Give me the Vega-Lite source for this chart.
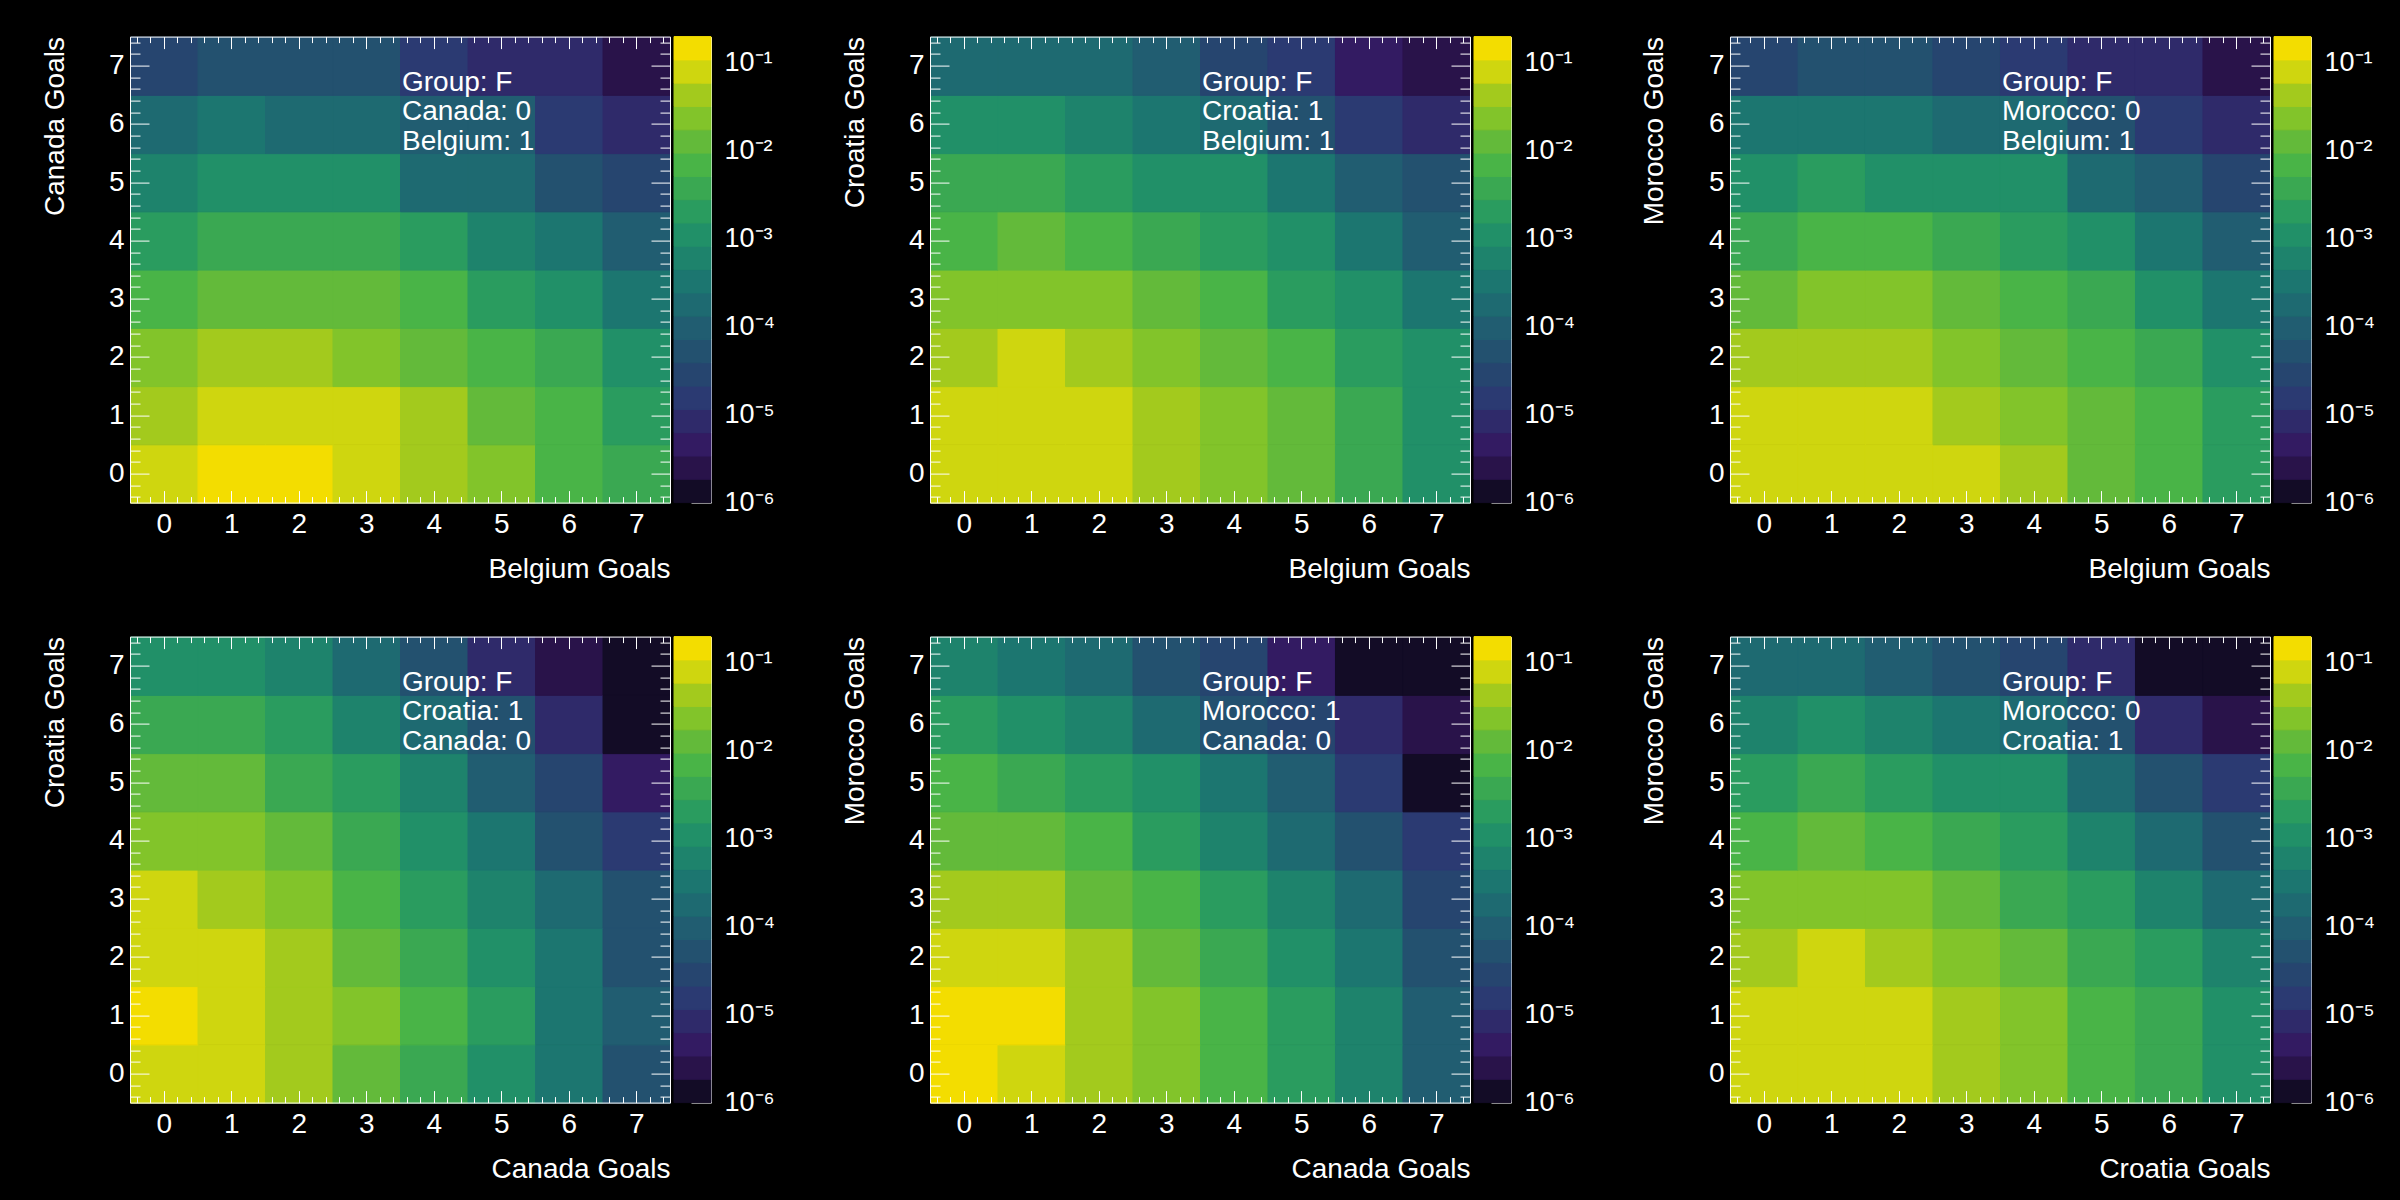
{
  "$schema": "https://vega.github.io/schema/vega-lite/v6.json",
  "background": "black",
  "padding": {"left": 41, "top": 27.6, "right": 25, "bottom": 18},
  "config": {
    "font": "Liberation Sans",
    "view": {"stroke": null},
    "axis": {"grid": false, "domainColor": "white", "domainWidth": 1, "tickColor": "white", "tickWidth": 1, "labelColor": "white", "labelFontSize": 28, "titleColor": "white", "titleFontSize": 28, "titleFontWeight": "normal", "labelOverlap": false, "labelFlush": false, "labelBound": false}
  },
  "datasets": {
    "levels": [
      {"lo": 1e-6, "hi": 1.841e-6}, {"lo": 1.841e-6, "hi": 3.388e-6}, {"lo": 3.388e-6, "hi": 6.237e-6}, {"lo": 6.237e-6, "hi": 1.148e-5},
      {"lo": 1.148e-5, "hi": 2.113e-5}, {"lo": 2.113e-5, "hi": 3.89e-5}, {"lo": 3.89e-5, "hi": 7.161e-5}, {"lo": 7.161e-5, "hi": 1.318e-4},
      {"lo": 1.318e-4, "hi": 2.427e-4}, {"lo": 2.427e-4, "hi": 4.467e-4}, {"lo": 4.467e-4, "hi": 8.222e-4}, {"lo": 8.222e-4, "hi": 1.514e-3},
      {"lo": 1.514e-3, "hi": 2.786e-3}, {"lo": 2.786e-3, "hi": 5.129e-3}, {"lo": 5.129e-3, "hi": 9.441e-3}, {"lo": 9.441e-3, "hi": 0.01738},
      {"lo": 0.01738, "hi": 0.03199}, {"lo": 0.03199, "hi": 0.05888}, {"lo": 0.05888, "hi": 0.1084}, {"lo": 0.1084, "hi": 0.1995}
    ],
    "canada_belgium": [
      {"gx":0,"gy":0,"p":0.0707},{"gx":1,"gy":0,"p":0.13},{"gx":2,"gy":0,"p":0.13},{"gx":3,"gy":0,"p":0.0707},{"gx":4,"gy":0,"p":0.0384},{"gx":5,"gy":0,"p":0.0209},{"gx":6,"gy":0,"p":0.0062},{"gx":7,"gy":0,"p":0.0033},
      {"gx":0,"gy":1,"p":0.0384},{"gx":1,"gy":1,"p":0.0707},{"gx":2,"gy":1,"p":0.0707},{"gx":3,"gy":1,"p":0.0707},{"gx":4,"gy":1,"p":0.0384},{"gx":5,"gy":1,"p":0.0113},{"gx":6,"gy":1,"p":0.0062},{"gx":7,"gy":1,"p":0.0018},
      {"gx":0,"gy":2,"p":0.0209},{"gx":1,"gy":2,"p":0.0384},{"gx":2,"gy":2,"p":0.0384},{"gx":3,"gy":2,"p":0.0209},{"gx":4,"gy":2,"p":0.0113},{"gx":5,"gy":2,"p":0.0062},{"gx":6,"gy":2,"p":0.0033},{"gx":7,"gy":2,"p":0.00099},
      {"gx":0,"gy":3,"p":0.0062},{"gx":1,"gy":3,"p":0.0113},{"gx":2,"gy":3,"p":0.0113},{"gx":3,"gy":3,"p":0.0113},{"gx":4,"gy":3,"p":0.0062},{"gx":5,"gy":3,"p":0.0018},{"gx":6,"gy":3,"p":0.00099},{"gx":7,"gy":3,"p":0.00029},
      {"gx":0,"gy":4,"p":0.0018},{"gx":1,"gy":4,"p":0.0033},{"gx":2,"gy":4,"p":0.0033},{"gx":3,"gy":4,"p":0.0033},{"gx":4,"gy":4,"p":0.0018},{"gx":5,"gy":4,"p":0.00054},{"gx":6,"gy":4,"p":0.00029},{"gx":7,"gy":4,"p":8.6e-5},
      {"gx":0,"gy":5,"p":0.00054},{"gx":1,"gy":5,"p":0.00099},{"gx":2,"gy":5,"p":0.00099},{"gx":3,"gy":5,"p":0.00099},{"gx":4,"gy":5,"p":0.00016},{"gx":5,"gy":5,"p":0.00016},{"gx":6,"gy":5,"p":4.7e-5},{"gx":7,"gy":5,"p":2.5e-5},
      {"gx":0,"gy":6,"p":0.00016},{"gx":1,"gy":6,"p":0.00029},{"gx":2,"gy":6,"p":0.00016},{"gx":3,"gy":6,"p":0.00016},{"gx":4,"gy":6,"p":8.6e-5},{"gx":5,"gy":6,"p":8.6e-5},{"gx":6,"gy":6,"p":1.4e-5},{"gx":7,"gy":6,"p":7.5e-6},
      {"gx":0,"gy":7,"p":2.5e-5},{"gx":1,"gy":7,"p":4.7e-5},{"gx":2,"gy":7,"p":4.7e-5},{"gx":3,"gy":7,"p":4.7e-5},{"gx":4,"gy":7,"p":1.4e-5},{"gx":5,"gy":7,"p":7.5e-6},{"gx":6,"gy":7,"p":7.5e-6},{"gx":7,"gy":7,"p":2.2e-6}
    ],
    "croatia_belgium": [
      {"gx":0,"gy":0,"p":0.0707},{"gx":1,"gy":0,"p":0.0707},{"gx":2,"gy":0,"p":0.0707},{"gx":3,"gy":0,"p":0.0384},{"gx":4,"gy":0,"p":0.0209},{"gx":5,"gy":0,"p":0.0113},{"gx":6,"gy":0,"p":0.0033},{"gx":7,"gy":0,"p":0.00099},
      {"gx":0,"gy":1,"p":0.0707},{"gx":1,"gy":1,"p":0.0707},{"gx":2,"gy":1,"p":0.0707},{"gx":3,"gy":1,"p":0.0384},{"gx":4,"gy":1,"p":0.0209},{"gx":5,"gy":1,"p":0.0113},{"gx":6,"gy":1,"p":0.0033},{"gx":7,"gy":1,"p":0.00099},
      {"gx":0,"gy":2,"p":0.0384},{"gx":1,"gy":2,"p":0.0707},{"gx":2,"gy":2,"p":0.0384},{"gx":3,"gy":2,"p":0.0209},{"gx":4,"gy":2,"p":0.0113},{"gx":5,"gy":2,"p":0.0062},{"gx":6,"gy":2,"p":0.0018},{"gx":7,"gy":2,"p":0.00099},
      {"gx":0,"gy":3,"p":0.0209},{"gx":1,"gy":3,"p":0.0209},{"gx":2,"gy":3,"p":0.0209},{"gx":3,"gy":3,"p":0.0113},{"gx":4,"gy":3,"p":0.0062},{"gx":5,"gy":3,"p":0.0018},{"gx":6,"gy":3,"p":0.00099},{"gx":7,"gy":3,"p":0.00029},
      {"gx":0,"gy":4,"p":0.0062},{"gx":1,"gy":4,"p":0.0113},{"gx":2,"gy":4,"p":0.0062},{"gx":3,"gy":4,"p":0.0033},{"gx":4,"gy":4,"p":0.0018},{"gx":5,"gy":4,"p":0.00099},{"gx":6,"gy":4,"p":0.00029},{"gx":7,"gy":4,"p":8.6e-5},
      {"gx":0,"gy":5,"p":0.0033},{"gx":1,"gy":5,"p":0.0033},{"gx":2,"gy":5,"p":0.0018},{"gx":3,"gy":5,"p":0.00099},{"gx":4,"gy":5,"p":0.00099},{"gx":5,"gy":5,"p":0.00029},{"gx":6,"gy":5,"p":8.6e-5},{"gx":7,"gy":5,"p":4.7e-5},
      {"gx":0,"gy":6,"p":0.00099},{"gx":1,"gy":6,"p":0.00099},{"gx":2,"gy":6,"p":0.00054},{"gx":3,"gy":6,"p":0.00029},{"gx":4,"gy":6,"p":0.00016},{"gx":5,"gy":6,"p":4.7e-5},{"gx":6,"gy":6,"p":1.4e-5},{"gx":7,"gy":6,"p":7.5e-6},
      {"gx":0,"gy":7,"p":0.00016},{"gx":1,"gy":7,"p":0.00016},{"gx":2,"gy":7,"p":0.00016},{"gx":3,"gy":7,"p":8.6e-5},{"gx":4,"gy":7,"p":2.5e-5},{"gx":5,"gy":7,"p":1.4e-5},{"gx":6,"gy":7,"p":4.1e-6},{"gx":7,"gy":7,"p":2.2e-6}
    ],
    "morocco_belgium": [
      {"gx":0,"gy":0,"p":0.0707},{"gx":1,"gy":0,"p":0.0707},{"gx":2,"gy":0,"p":0.0707},{"gx":3,"gy":0,"p":0.0707},{"gx":4,"gy":0,"p":0.0384},{"gx":5,"gy":0,"p":0.0113},{"gx":6,"gy":0,"p":0.0062},{"gx":7,"gy":0,"p":0.0018},
      {"gx":0,"gy":1,"p":0.0707},{"gx":1,"gy":1,"p":0.0707},{"gx":2,"gy":1,"p":0.0707},{"gx":3,"gy":1,"p":0.0384},{"gx":4,"gy":1,"p":0.0209},{"gx":5,"gy":1,"p":0.0113},{"gx":6,"gy":1,"p":0.0062},{"gx":7,"gy":1,"p":0.0018},
      {"gx":0,"gy":2,"p":0.0384},{"gx":1,"gy":2,"p":0.0384},{"gx":2,"gy":2,"p":0.0384},{"gx":3,"gy":2,"p":0.0209},{"gx":4,"gy":2,"p":0.0113},{"gx":5,"gy":2,"p":0.0062},{"gx":6,"gy":2,"p":0.0033},{"gx":7,"gy":2,"p":0.00099},
      {"gx":0,"gy":3,"p":0.0113},{"gx":1,"gy":3,"p":0.0209},{"gx":2,"gy":3,"p":0.0209},{"gx":3,"gy":3,"p":0.0113},{"gx":4,"gy":3,"p":0.0062},{"gx":5,"gy":3,"p":0.0033},{"gx":6,"gy":3,"p":0.00099},{"gx":7,"gy":3,"p":0.00029},
      {"gx":0,"gy":4,"p":0.0033},{"gx":1,"gy":4,"p":0.0062},{"gx":2,"gy":4,"p":0.0062},{"gx":3,"gy":4,"p":0.0033},{"gx":4,"gy":4,"p":0.0018},{"gx":5,"gy":4,"p":0.00099},{"gx":6,"gy":4,"p":0.00029},{"gx":7,"gy":4,"p":8.6e-5},
      {"gx":0,"gy":5,"p":0.00099},{"gx":1,"gy":5,"p":0.0018},{"gx":2,"gy":5,"p":0.00099},{"gx":3,"gy":5,"p":0.00099},{"gx":4,"gy":5,"p":0.00099},{"gx":5,"gy":5,"p":0.00016},{"gx":6,"gy":5,"p":8.6e-5},{"gx":7,"gy":5,"p":2.5e-5},
      {"gx":0,"gy":6,"p":0.00029},{"gx":1,"gy":6,"p":0.00029},{"gx":2,"gy":6,"p":0.00029},{"gx":3,"gy":6,"p":0.00016},{"gx":4,"gy":6,"p":0.00016},{"gx":5,"gy":6,"p":4.7e-5},{"gx":6,"gy":6,"p":1.4e-5},{"gx":7,"gy":6,"p":7.5e-6},
      {"gx":0,"gy":7,"p":2.5e-5},{"gx":1,"gy":7,"p":4.7e-5},{"gx":2,"gy":7,"p":4.7e-5},{"gx":3,"gy":7,"p":2.5e-5},{"gx":4,"gy":7,"p":1.4e-5},{"gx":5,"gy":7,"p":7.5e-6},{"gx":6,"gy":7,"p":7.5e-6},{"gx":7,"gy":7,"p":2.2e-6}
    ],
    "croatia_canada": [
      {"gx":0,"gy":0,"p":0.0707},{"gx":1,"gy":0,"p":0.0707},{"gx":2,"gy":0,"p":0.0384},{"gx":3,"gy":0,"p":0.0113},{"gx":4,"gy":0,"p":0.0033},{"gx":5,"gy":0,"p":0.00099},{"gx":6,"gy":0,"p":0.00029},{"gx":7,"gy":0,"p":4.7e-5},
      {"gx":0,"gy":1,"p":0.13},{"gx":1,"gy":1,"p":0.0707},{"gx":2,"gy":1,"p":0.0384},{"gx":3,"gy":1,"p":0.0209},{"gx":4,"gy":1,"p":0.0062},{"gx":5,"gy":1,"p":0.0018},{"gx":6,"gy":1,"p":0.00029},{"gx":7,"gy":1,"p":8.6e-5},
      {"gx":0,"gy":2,"p":0.0707},{"gx":1,"gy":2,"p":0.0707},{"gx":2,"gy":2,"p":0.0384},{"gx":3,"gy":2,"p":0.0113},{"gx":4,"gy":2,"p":0.0033},{"gx":5,"gy":2,"p":0.00099},{"gx":6,"gy":2,"p":0.00029},{"gx":7,"gy":2,"p":4.7e-5},
      {"gx":0,"gy":3,"p":0.0707},{"gx":1,"gy":3,"p":0.0384},{"gx":2,"gy":3,"p":0.0209},{"gx":3,"gy":3,"p":0.0062},{"gx":4,"gy":3,"p":0.0018},{"gx":5,"gy":3,"p":0.00054},{"gx":6,"gy":3,"p":0.00016},{"gx":7,"gy":3,"p":4.7e-5},
      {"gx":0,"gy":4,"p":0.0209},{"gx":1,"gy":4,"p":0.0209},{"gx":2,"gy":4,"p":0.0113},{"gx":3,"gy":4,"p":0.0033},{"gx":4,"gy":4,"p":0.00099},{"gx":5,"gy":4,"p":0.00029},{"gx":6,"gy":4,"p":4.7e-5},{"gx":7,"gy":4,"p":1.4e-5},
      {"gx":0,"gy":5,"p":0.0113},{"gx":1,"gy":5,"p":0.0113},{"gx":2,"gy":5,"p":0.0033},{"gx":3,"gy":5,"p":0.0018},{"gx":4,"gy":5,"p":0.00054},{"gx":5,"gy":5,"p":8.6e-5},{"gx":6,"gy":5,"p":2.5e-5},{"gx":7,"gy":5,"p":4.1e-6},
      {"gx":0,"gy":6,"p":0.0033},{"gx":1,"gy":6,"p":0.0033},{"gx":2,"gy":6,"p":0.0018},{"gx":3,"gy":6,"p":0.00054},{"gx":4,"gy":6,"p":0.00016},{"gx":5,"gy":6,"p":4.7e-5},{"gx":6,"gy":6,"p":7.5e-6},{"gx":7,"gy":6,"p":1.2e-6},
      {"gx":0,"gy":7,"p":0.00099},{"gx":1,"gy":7,"p":0.00099},{"gx":2,"gy":7,"p":0.00054},{"gx":3,"gy":7,"p":0.00016},{"gx":4,"gy":7,"p":4.7e-5},{"gx":5,"gy":7,"p":7.5e-6},{"gx":6,"gy":7,"p":2.2e-6},{"gx":7,"gy":7,"p":1.2e-6}
    ],
    "morocco_canada": [
      {"gx":0,"gy":0,"p":0.13},{"gx":1,"gy":0,"p":0.0707},{"gx":2,"gy":0,"p":0.0384},{"gx":3,"gy":0,"p":0.0209},{"gx":4,"gy":0,"p":0.0062},{"gx":5,"gy":0,"p":0.0018},{"gx":6,"gy":0,"p":0.00054},{"gx":7,"gy":0,"p":8.6e-5},
      {"gx":0,"gy":1,"p":0.13},{"gx":1,"gy":1,"p":0.13},{"gx":2,"gy":1,"p":0.0384},{"gx":3,"gy":1,"p":0.0209},{"gx":4,"gy":1,"p":0.0062},{"gx":5,"gy":1,"p":0.0018},{"gx":6,"gy":1,"p":0.00054},{"gx":7,"gy":1,"p":8.6e-5},
      {"gx":0,"gy":2,"p":0.0707},{"gx":1,"gy":2,"p":0.0707},{"gx":2,"gy":2,"p":0.0384},{"gx":3,"gy":2,"p":0.0113},{"gx":4,"gy":2,"p":0.0033},{"gx":5,"gy":2,"p":0.00099},{"gx":6,"gy":2,"p":0.00029},{"gx":7,"gy":2,"p":4.7e-5},
      {"gx":0,"gy":3,"p":0.0384},{"gx":1,"gy":3,"p":0.0384},{"gx":2,"gy":3,"p":0.0113},{"gx":3,"gy":3,"p":0.0062},{"gx":4,"gy":3,"p":0.0018},{"gx":5,"gy":3,"p":0.00054},{"gx":6,"gy":3,"p":0.00016},{"gx":7,"gy":3,"p":2.5e-5},
      {"gx":0,"gy":4,"p":0.0113},{"gx":1,"gy":4,"p":0.0113},{"gx":2,"gy":4,"p":0.0062},{"gx":3,"gy":4,"p":0.0018},{"gx":4,"gy":4,"p":0.00054},{"gx":5,"gy":4,"p":0.00016},{"gx":6,"gy":4,"p":4.7e-5},{"gx":7,"gy":4,"p":1.4e-5},
      {"gx":0,"gy":5,"p":0.0062},{"gx":1,"gy":5,"p":0.0033},{"gx":2,"gy":5,"p":0.0018},{"gx":3,"gy":5,"p":0.00099},{"gx":4,"gy":5,"p":0.00029},{"gx":5,"gy":5,"p":8.6e-5},{"gx":6,"gy":5,"p":1.4e-5},{"gx":7,"gy":5,"p":1.2e-6},
      {"gx":0,"gy":6,"p":0.0018},{"gx":1,"gy":6,"p":0.00099},{"gx":2,"gy":6,"p":0.00054},{"gx":3,"gy":6,"p":0.00016},{"gx":4,"gy":6,"p":4.7e-5},{"gx":5,"gy":6,"p":2.5e-5},{"gx":6,"gy":6,"p":7.5e-6},{"gx":7,"gy":6,"p":2.2e-6},
      {"gx":0,"gy":7,"p":0.00054},{"gx":1,"gy":7,"p":0.00029},{"gx":2,"gy":7,"p":0.00016},{"gx":3,"gy":7,"p":4.7e-5},{"gx":4,"gy":7,"p":2.5e-5},{"gx":5,"gy":7,"p":4.1e-6},{"gx":6,"gy":7,"p":1.2e-6},{"gx":7,"gy":7,"p":1.2e-6}
    ],
    "morocco_croatia": [
      {"gx":0,"gy":0,"p":0.0707},{"gx":1,"gy":0,"p":0.0707},{"gx":2,"gy":0,"p":0.0707},{"gx":3,"gy":0,"p":0.0384},{"gx":4,"gy":0,"p":0.0209},{"gx":5,"gy":0,"p":0.0062},{"gx":6,"gy":0,"p":0.0033},{"gx":7,"gy":0,"p":0.00099},
      {"gx":0,"gy":1,"p":0.0707},{"gx":1,"gy":1,"p":0.0707},{"gx":2,"gy":1,"p":0.0707},{"gx":3,"gy":1,"p":0.0384},{"gx":4,"gy":1,"p":0.0209},{"gx":5,"gy":1,"p":0.0062},{"gx":6,"gy":1,"p":0.0033},{"gx":7,"gy":1,"p":0.00099},
      {"gx":0,"gy":2,"p":0.0384},{"gx":1,"gy":2,"p":0.0707},{"gx":2,"gy":2,"p":0.0384},{"gx":3,"gy":2,"p":0.0209},{"gx":4,"gy":2,"p":0.0113},{"gx":5,"gy":2,"p":0.0033},{"gx":6,"gy":2,"p":0.0018},{"gx":7,"gy":2,"p":0.00054},
      {"gx":0,"gy":3,"p":0.0209},{"gx":1,"gy":3,"p":0.0209},{"gx":2,"gy":3,"p":0.0209},{"gx":3,"gy":3,"p":0.0113},{"gx":4,"gy":3,"p":0.0033},{"gx":5,"gy":3,"p":0.0018},{"gx":6,"gy":3,"p":0.00054},{"gx":7,"gy":3,"p":0.00016},
      {"gx":0,"gy":4,"p":0.0062},{"gx":1,"gy":4,"p":0.0113},{"gx":2,"gy":4,"p":0.0062},{"gx":3,"gy":4,"p":0.0033},{"gx":4,"gy":4,"p":0.0018},{"gx":5,"gy":4,"p":0.00054},{"gx":6,"gy":4,"p":0.00016},{"gx":7,"gy":4,"p":4.7e-5},
      {"gx":0,"gy":5,"p":0.0018},{"gx":1,"gy":5,"p":0.0033},{"gx":2,"gy":5,"p":0.0018},{"gx":3,"gy":5,"p":0.00099},{"gx":4,"gy":5,"p":0.00099},{"gx":5,"gy":5,"p":0.00016},{"gx":6,"gy":5,"p":4.7e-5},{"gx":7,"gy":5,"p":1.4e-5},
      {"gx":0,"gy":6,"p":0.00054},{"gx":1,"gy":6,"p":0.00099},{"gx":2,"gy":6,"p":0.00054},{"gx":3,"gy":6,"p":0.00029},{"gx":4,"gy":6,"p":0.00016},{"gx":5,"gy":6,"p":4.7e-5},{"gx":6,"gy":6,"p":7.5e-6},{"gx":7,"gy":6,"p":2.2e-6},
      {"gx":0,"gy":7,"p":0.00016},{"gx":1,"gy":7,"p":0.00016},{"gx":2,"gy":7,"p":8.6e-5},{"gx":3,"gy":7,"p":4.7e-5},{"gx":4,"gy":7,"p":2.5e-5},{"gx":5,"gy":7,"p":7.5e-6},{"gx":6,"gy":7,"p":1.2e-6},{"gx":7,"gy":7,"p":1.2e-6}
    ]
  },
  "spacing": 44,
  "vconcat": [
    {
      "spacing": 66,
      "hconcat": [
        {
          "spacing": 4, "bounds": "flush",
          "hconcat": [
            {
              "width": 540, "height": 466,
              "layer": [
                {"data": {"name": "canada_belgium"}, "mark": {"type": "rect", "binSpacing": 0, "strokeWidth": 1},
                  "encoding": {
                    "x": {"field": "gx", "type": "quantitative", "bin": {"step": 1, "extent": [-0.5, 7.5], "nice": false}, "scale": {"domain": [-0.5, 7.5]}, "axis": {"orient": "bottom", "values": [-0.4,-0.2,0,0.2,0.4,0.6,0.8,1,1.2,1.4,1.6,1.8,2,2.2,2.4,2.6,2.8,3,3.2,3.4,3.6,3.8,4,4.2,4.4,4.6,4.8,5,5.2,5.4,5.6,5.8,6,6.2,6.4,6.6,6.8,7,7.2,7.4], "tickSize": {"condition": {"test": "datum.value % 1 === 0", "value": -12}, "value": -6}, "labelExpr": "datum.value % 1 === 0 ? format(datum.value, 'd') : ''", "labelPadding": 20, "title": "Belgium Goals", "titleX": 540, "titleY": 75, "titleAlign": "right", "titleBaseline": "alphabetic"}},
                    "y": {"field": "gy", "type": "quantitative", "bin": {"step": 1, "extent": [-0.5, 7.5], "nice": false}, "scale": {"domain": [-0.5, 7.5]}, "axis": {"orient": "left", "values": [-0.4,-0.2,0,0.2,0.4,0.6,0.8,1,1.2,1.4,1.6,1.8,2,2.2,2.4,2.6,2.8,3,3.2,3.4,3.6,3.8,4,4.2,4.4,4.6,4.8,5,5.2,5.4,5.6,5.8,6,6.2,6.4,6.6,6.8,7,7.2,7.4], "tickSize": {"condition": {"test": "datum.value % 1 === 0", "value": -19}, "value": -10}, "labelExpr": "datum.value % 1 === 0 ? format(datum.value, 'd') : ''", "labelPadding": 25, "title": "Canada Goals", "titleX": -67, "titleY": 0, "titleAngle": 270, "titleAlign": "right", "titleBaseline": "alphabetic"}},
                    "color": {"field": "p", "type": "quantitative", "legend": null, "scale": {"type": "threshold", "domain": [1.841e-6,3.388e-6,6.237e-6,1.148e-5,2.113e-5,3.89e-5,7.161e-5,1.318e-4,2.427e-4,4.467e-4,8.222e-4,1.514e-3,2.786e-3,5.129e-3,9.441e-3,0.01738,0.03199,0.05888,0.1084], "range": ["#130c26","#29134a","#331b62","#2f2a6a","#2b3a72","#26456f","#23516f","#215d71","#1e6a71","#1c7670","#1e836c","#219068","#2a9c5f","#3aa852","#49b447","#63ba3a","#82c42a","#a3ca1d","#cfd60f","#f3dd00"]}},
                    "stroke": {"field": "p", "type": "quantitative", "legend": null, "scale": {"type": "threshold", "domain": [1.841e-6,3.388e-6,6.237e-6,1.148e-5,2.113e-5,3.89e-5,7.161e-5,1.318e-4,2.427e-4,4.467e-4,8.222e-4,1.514e-3,2.786e-3,5.129e-3,9.441e-3,0.01738,0.03199,0.05888,0.1084], "range": ["#130c26","#29134a","#331b62","#2f2a6a","#2b3a72","#26456f","#23516f","#215d71","#1e6a71","#1c7670","#1e836c","#219068","#2a9c5f","#3aa852","#49b447","#63ba3a","#82c42a","#a3ca1d","#cfd60f","#f3dd00"]}}
                  }},
                {"data": {"name": "canada_belgium"}, "mark": {"type": "rect", "binSpacing": 0, "opacity": 0},
                  "encoding": {
                    "x": {"field": "gx", "type": "quantitative", "bin": {"step": 1, "extent": [-0.5, 7.5], "nice": false}, "scale": {"domain": [-0.5, 7.5]}, "axis": {"orient": "top", "values": [-0.4,-0.2,0,0.2,0.4,0.6,0.8,1,1.2,1.4,1.6,1.8,2,2.2,2.4,2.6,2.8,3,3.2,3.4,3.6,3.8,4,4.2,4.4,4.6,4.8,5,5.2,5.4,5.6,5.8,6,6.2,6.4,6.6,6.8,7,7.2,7.4], "tickSize": {"condition": {"test": "datum.value % 1 === 0", "value": -12}, "value": -6}, "labels": false, "title": null}},
                    "y": {"field": "gy", "type": "quantitative", "bin": {"step": 1, "extent": [-0.5, 7.5], "nice": false}, "scale": {"domain": [-0.5, 7.5]}, "axis": {"orient": "right", "values": [-0.4,-0.2,0,0.2,0.4,0.6,0.8,1,1.2,1.4,1.6,1.8,2,2.2,2.4,2.6,2.8,3,3.2,3.4,3.6,3.8,4,4.2,4.4,4.6,4.8,5,5.2,5.4,5.6,5.8,6,6.2,6.4,6.6,6.8,7,7.2,7.4], "tickSize": {"condition": {"test": "datum.value % 1 === 0", "value": -19}, "value": -10}, "labels": false, "title": null}}
                  }},
                {"data": {"values": [{"group": "F"}]}, "mark": {"type": "text", "align": "left", "baseline": "alphabetic", "fontSize": 28, "lineHeight": 29.5, "color": "white", "text": ["Group: F", "Canada: 0", "Belgium: 1"]},
                  "encoding": {"x": {"datum": 3.53, "type": "quantitative", "scale": {"domain": [-0.5, 7.5]}, "axis": null}, "y": {"datum": 6.57, "type": "quantitative", "scale": {"domain": [-0.5, 7.5]}, "axis": null}}}
              ],
              "resolve": {"axis": {"x": "independent", "y": "independent"}}
            },
            {
              "width": 37, "height": 466, "data": {"name": "levels"}, "mark": {"type": "rect", "strokeWidth": 1},
              "encoding": {
                "y": {"field": "lo", "type": "quantitative", "scale": {"type": "log", "domain": [1e-6, 0.1995], "nice": false}, "axis": {"orient": "right", "values": [1e-6,2e-6,3e-6,4e-6,5e-6,6e-6,7e-6,8e-6,9e-6,1e-5,2e-5,3e-5,4e-5,5e-5,6e-5,7e-5,8e-5,9e-5,1e-4,2e-4,3e-4,4e-4,5e-4,6e-4,7e-4,8e-4,9e-4,0.001,0.002,0.003,0.004,0.005,0.006,0.007,0.008,0.009,0.01,0.02,0.03,0.04,0.05,0.06,0.07,0.08,0.09,0.1], "tickSize": {"condition": {"test": "abs(log(datum.value)/LN10 - round(log(datum.value)/LN10)) < 0.001", "value": -20}, "value": -10}, "labelExpr": "abs(log(datum.value)/LN10 - round(log(datum.value)/LN10)) < 0.001 ? '10⁻' + substring('⁰¹²³⁴⁵⁶⁷⁸⁹', -round(log(datum.value)/LN10), 1 - round(log(datum.value)/LN10)) : ''", "labelPadding": 33, "labelAlign": "left", "labelBaseline": "middle", "labelFontSize": 27, "title": null}},
                "y2": {"field": "hi"},
                "color": {"field": "lo", "type": "quantitative", "legend": null, "scale": {"type": "threshold", "domain": [1.841e-6,3.388e-6,6.237e-6,1.148e-5,2.113e-5,3.89e-5,7.161e-5,1.318e-4,2.427e-4,4.467e-4,8.222e-4,1.514e-3,2.786e-3,5.129e-3,9.441e-3,0.01738,0.03199,0.05888,0.1084], "range": ["#130c26","#29134a","#331b62","#2f2a6a","#2b3a72","#26456f","#23516f","#215d71","#1e6a71","#1c7670","#1e836c","#219068","#2a9c5f","#3aa852","#49b447","#63ba3a","#82c42a","#a3ca1d","#cfd60f","#f3dd00"]}},
                "stroke": {"field": "lo", "type": "quantitative", "legend": null, "scale": {"type": "threshold", "domain": [1.841e-6,3.388e-6,6.237e-6,1.148e-5,2.113e-5,3.89e-5,7.161e-5,1.318e-4,2.427e-4,4.467e-4,8.222e-4,1.514e-3,2.786e-3,5.129e-3,9.441e-3,0.01738,0.03199,0.05888,0.1084], "range": ["#130c26","#29134a","#331b62","#2f2a6a","#2b3a72","#26456f","#23516f","#215d71","#1e6a71","#1c7670","#1e836c","#219068","#2a9c5f","#3aa852","#49b447","#63ba3a","#82c42a","#a3ca1d","#cfd60f","#f3dd00"]}}
              }
            }
          ]
        },
        {
          "spacing": 4, "bounds": "flush",
          "hconcat": [
            {
              "width": 540, "height": 466,
              "layer": [
                {"data": {"name": "croatia_belgium"}, "mark": {"type": "rect", "binSpacing": 0, "strokeWidth": 1},
                  "encoding": {
                    "x": {"field": "gx", "type": "quantitative", "bin": {"step": 1, "extent": [-0.5, 7.5], "nice": false}, "scale": {"domain": [-0.5, 7.5]}, "axis": {"orient": "bottom", "values": [-0.4,-0.2,0,0.2,0.4,0.6,0.8,1,1.2,1.4,1.6,1.8,2,2.2,2.4,2.6,2.8,3,3.2,3.4,3.6,3.8,4,4.2,4.4,4.6,4.8,5,5.2,5.4,5.6,5.8,6,6.2,6.4,6.6,6.8,7,7.2,7.4], "tickSize": {"condition": {"test": "datum.value % 1 === 0", "value": -12}, "value": -6}, "labelExpr": "datum.value % 1 === 0 ? format(datum.value, 'd') : ''", "labelPadding": 20, "title": "Belgium Goals", "titleX": 540, "titleY": 75, "titleAlign": "right", "titleBaseline": "alphabetic"}},
                    "y": {"field": "gy", "type": "quantitative", "bin": {"step": 1, "extent": [-0.5, 7.5], "nice": false}, "scale": {"domain": [-0.5, 7.5]}, "axis": {"orient": "left", "values": [-0.4,-0.2,0,0.2,0.4,0.6,0.8,1,1.2,1.4,1.6,1.8,2,2.2,2.4,2.6,2.8,3,3.2,3.4,3.6,3.8,4,4.2,4.4,4.6,4.8,5,5.2,5.4,5.6,5.8,6,6.2,6.4,6.6,6.8,7,7.2,7.4], "tickSize": {"condition": {"test": "datum.value % 1 === 0", "value": -19}, "value": -10}, "labelExpr": "datum.value % 1 === 0 ? format(datum.value, 'd') : ''", "labelPadding": 25, "title": "Croatia Goals", "titleX": -67, "titleY": 0, "titleAngle": 270, "titleAlign": "right", "titleBaseline": "alphabetic"}},
                    "color": {"field": "p", "type": "quantitative", "legend": null, "scale": {"type": "threshold", "domain": [1.841e-6,3.388e-6,6.237e-6,1.148e-5,2.113e-5,3.89e-5,7.161e-5,1.318e-4,2.427e-4,4.467e-4,8.222e-4,1.514e-3,2.786e-3,5.129e-3,9.441e-3,0.01738,0.03199,0.05888,0.1084], "range": ["#130c26","#29134a","#331b62","#2f2a6a","#2b3a72","#26456f","#23516f","#215d71","#1e6a71","#1c7670","#1e836c","#219068","#2a9c5f","#3aa852","#49b447","#63ba3a","#82c42a","#a3ca1d","#cfd60f","#f3dd00"]}},
                    "stroke": {"field": "p", "type": "quantitative", "legend": null, "scale": {"type": "threshold", "domain": [1.841e-6,3.388e-6,6.237e-6,1.148e-5,2.113e-5,3.89e-5,7.161e-5,1.318e-4,2.427e-4,4.467e-4,8.222e-4,1.514e-3,2.786e-3,5.129e-3,9.441e-3,0.01738,0.03199,0.05888,0.1084], "range": ["#130c26","#29134a","#331b62","#2f2a6a","#2b3a72","#26456f","#23516f","#215d71","#1e6a71","#1c7670","#1e836c","#219068","#2a9c5f","#3aa852","#49b447","#63ba3a","#82c42a","#a3ca1d","#cfd60f","#f3dd00"]}}
                  }},
                {"data": {"name": "croatia_belgium"}, "mark": {"type": "rect", "binSpacing": 0, "opacity": 0},
                  "encoding": {
                    "x": {"field": "gx", "type": "quantitative", "bin": {"step": 1, "extent": [-0.5, 7.5], "nice": false}, "scale": {"domain": [-0.5, 7.5]}, "axis": {"orient": "top", "values": [-0.4,-0.2,0,0.2,0.4,0.6,0.8,1,1.2,1.4,1.6,1.8,2,2.2,2.4,2.6,2.8,3,3.2,3.4,3.6,3.8,4,4.2,4.4,4.6,4.8,5,5.2,5.4,5.6,5.8,6,6.2,6.4,6.6,6.8,7,7.2,7.4], "tickSize": {"condition": {"test": "datum.value % 1 === 0", "value": -12}, "value": -6}, "labels": false, "title": null}},
                    "y": {"field": "gy", "type": "quantitative", "bin": {"step": 1, "extent": [-0.5, 7.5], "nice": false}, "scale": {"domain": [-0.5, 7.5]}, "axis": {"orient": "right", "values": [-0.4,-0.2,0,0.2,0.4,0.6,0.8,1,1.2,1.4,1.6,1.8,2,2.2,2.4,2.6,2.8,3,3.2,3.4,3.6,3.8,4,4.2,4.4,4.6,4.8,5,5.2,5.4,5.6,5.8,6,6.2,6.4,6.6,6.8,7,7.2,7.4], "tickSize": {"condition": {"test": "datum.value % 1 === 0", "value": -19}, "value": -10}, "labels": false, "title": null}}
                  }},
                {"data": {"values": [{"group": "F"}]}, "mark": {"type": "text", "align": "left", "baseline": "alphabetic", "fontSize": 28, "lineHeight": 29.5, "color": "white", "text": ["Group: F", "Croatia: 1", "Belgium: 1"]},
                  "encoding": {"x": {"datum": 3.53, "type": "quantitative", "scale": {"domain": [-0.5, 7.5]}, "axis": null}, "y": {"datum": 6.57, "type": "quantitative", "scale": {"domain": [-0.5, 7.5]}, "axis": null}}}
              ],
              "resolve": {"axis": {"x": "independent", "y": "independent"}}
            },
            {
              "width": 37, "height": 466, "data": {"name": "levels"}, "mark": {"type": "rect", "strokeWidth": 1},
              "encoding": {
                "y": {"field": "lo", "type": "quantitative", "scale": {"type": "log", "domain": [1e-6, 0.1995], "nice": false}, "axis": {"orient": "right", "values": [1e-6,2e-6,3e-6,4e-6,5e-6,6e-6,7e-6,8e-6,9e-6,1e-5,2e-5,3e-5,4e-5,5e-5,6e-5,7e-5,8e-5,9e-5,1e-4,2e-4,3e-4,4e-4,5e-4,6e-4,7e-4,8e-4,9e-4,0.001,0.002,0.003,0.004,0.005,0.006,0.007,0.008,0.009,0.01,0.02,0.03,0.04,0.05,0.06,0.07,0.08,0.09,0.1], "tickSize": {"condition": {"test": "abs(log(datum.value)/LN10 - round(log(datum.value)/LN10)) < 0.001", "value": -20}, "value": -10}, "labelExpr": "abs(log(datum.value)/LN10 - round(log(datum.value)/LN10)) < 0.001 ? '10⁻' + substring('⁰¹²³⁴⁵⁶⁷⁸⁹', -round(log(datum.value)/LN10), 1 - round(log(datum.value)/LN10)) : ''", "labelPadding": 33, "labelAlign": "left", "labelBaseline": "middle", "labelFontSize": 27, "title": null}},
                "y2": {"field": "hi"},
                "color": {"field": "lo", "type": "quantitative", "legend": null, "scale": {"type": "threshold", "domain": [1.841e-6,3.388e-6,6.237e-6,1.148e-5,2.113e-5,3.89e-5,7.161e-5,1.318e-4,2.427e-4,4.467e-4,8.222e-4,1.514e-3,2.786e-3,5.129e-3,9.441e-3,0.01738,0.03199,0.05888,0.1084], "range": ["#130c26","#29134a","#331b62","#2f2a6a","#2b3a72","#26456f","#23516f","#215d71","#1e6a71","#1c7670","#1e836c","#219068","#2a9c5f","#3aa852","#49b447","#63ba3a","#82c42a","#a3ca1d","#cfd60f","#f3dd00"]}},
                "stroke": {"field": "lo", "type": "quantitative", "legend": null, "scale": {"type": "threshold", "domain": [1.841e-6,3.388e-6,6.237e-6,1.148e-5,2.113e-5,3.89e-5,7.161e-5,1.318e-4,2.427e-4,4.467e-4,8.222e-4,1.514e-3,2.786e-3,5.129e-3,9.441e-3,0.01738,0.03199,0.05888,0.1084], "range": ["#130c26","#29134a","#331b62","#2f2a6a","#2b3a72","#26456f","#23516f","#215d71","#1e6a71","#1c7670","#1e836c","#219068","#2a9c5f","#3aa852","#49b447","#63ba3a","#82c42a","#a3ca1d","#cfd60f","#f3dd00"]}}
              }
            }
          ]
        },
        {
          "spacing": 4, "bounds": "flush",
          "hconcat": [
            {
              "width": 540, "height": 466,
              "layer": [
                {"data": {"name": "morocco_belgium"}, "mark": {"type": "rect", "binSpacing": 0, "strokeWidth": 1},
                  "encoding": {
                    "x": {"field": "gx", "type": "quantitative", "bin": {"step": 1, "extent": [-0.5, 7.5], "nice": false}, "scale": {"domain": [-0.5, 7.5]}, "axis": {"orient": "bottom", "values": [-0.4,-0.2,0,0.2,0.4,0.6,0.8,1,1.2,1.4,1.6,1.8,2,2.2,2.4,2.6,2.8,3,3.2,3.4,3.6,3.8,4,4.2,4.4,4.6,4.8,5,5.2,5.4,5.6,5.8,6,6.2,6.4,6.6,6.8,7,7.2,7.4], "tickSize": {"condition": {"test": "datum.value % 1 === 0", "value": -12}, "value": -6}, "labelExpr": "datum.value % 1 === 0 ? format(datum.value, 'd') : ''", "labelPadding": 20, "title": "Belgium Goals", "titleX": 540, "titleY": 75, "titleAlign": "right", "titleBaseline": "alphabetic"}},
                    "y": {"field": "gy", "type": "quantitative", "bin": {"step": 1, "extent": [-0.5, 7.5], "nice": false}, "scale": {"domain": [-0.5, 7.5]}, "axis": {"orient": "left", "values": [-0.4,-0.2,0,0.2,0.4,0.6,0.8,1,1.2,1.4,1.6,1.8,2,2.2,2.4,2.6,2.8,3,3.2,3.4,3.6,3.8,4,4.2,4.4,4.6,4.8,5,5.2,5.4,5.6,5.8,6,6.2,6.4,6.6,6.8,7,7.2,7.4], "tickSize": {"condition": {"test": "datum.value % 1 === 0", "value": -19}, "value": -10}, "labelExpr": "datum.value % 1 === 0 ? format(datum.value, 'd') : ''", "labelPadding": 25, "title": "Morocco Goals", "titleX": -67, "titleY": 0, "titleAngle": 270, "titleAlign": "right", "titleBaseline": "alphabetic"}},
                    "color": {"field": "p", "type": "quantitative", "legend": null, "scale": {"type": "threshold", "domain": [1.841e-6,3.388e-6,6.237e-6,1.148e-5,2.113e-5,3.89e-5,7.161e-5,1.318e-4,2.427e-4,4.467e-4,8.222e-4,1.514e-3,2.786e-3,5.129e-3,9.441e-3,0.01738,0.03199,0.05888,0.1084], "range": ["#130c26","#29134a","#331b62","#2f2a6a","#2b3a72","#26456f","#23516f","#215d71","#1e6a71","#1c7670","#1e836c","#219068","#2a9c5f","#3aa852","#49b447","#63ba3a","#82c42a","#a3ca1d","#cfd60f","#f3dd00"]}},
                    "stroke": {"field": "p", "type": "quantitative", "legend": null, "scale": {"type": "threshold", "domain": [1.841e-6,3.388e-6,6.237e-6,1.148e-5,2.113e-5,3.89e-5,7.161e-5,1.318e-4,2.427e-4,4.467e-4,8.222e-4,1.514e-3,2.786e-3,5.129e-3,9.441e-3,0.01738,0.03199,0.05888,0.1084], "range": ["#130c26","#29134a","#331b62","#2f2a6a","#2b3a72","#26456f","#23516f","#215d71","#1e6a71","#1c7670","#1e836c","#219068","#2a9c5f","#3aa852","#49b447","#63ba3a","#82c42a","#a3ca1d","#cfd60f","#f3dd00"]}}
                  }},
                {"data": {"name": "morocco_belgium"}, "mark": {"type": "rect", "binSpacing": 0, "opacity": 0},
                  "encoding": {
                    "x": {"field": "gx", "type": "quantitative", "bin": {"step": 1, "extent": [-0.5, 7.5], "nice": false}, "scale": {"domain": [-0.5, 7.5]}, "axis": {"orient": "top", "values": [-0.4,-0.2,0,0.2,0.4,0.6,0.8,1,1.2,1.4,1.6,1.8,2,2.2,2.4,2.6,2.8,3,3.2,3.4,3.6,3.8,4,4.2,4.4,4.6,4.8,5,5.2,5.4,5.6,5.8,6,6.2,6.4,6.6,6.8,7,7.2,7.4], "tickSize": {"condition": {"test": "datum.value % 1 === 0", "value": -12}, "value": -6}, "labels": false, "title": null}},
                    "y": {"field": "gy", "type": "quantitative", "bin": {"step": 1, "extent": [-0.5, 7.5], "nice": false}, "scale": {"domain": [-0.5, 7.5]}, "axis": {"orient": "right", "values": [-0.4,-0.2,0,0.2,0.4,0.6,0.8,1,1.2,1.4,1.6,1.8,2,2.2,2.4,2.6,2.8,3,3.2,3.4,3.6,3.8,4,4.2,4.4,4.6,4.8,5,5.2,5.4,5.6,5.8,6,6.2,6.4,6.6,6.8,7,7.2,7.4], "tickSize": {"condition": {"test": "datum.value % 1 === 0", "value": -19}, "value": -10}, "labels": false, "title": null}}
                  }},
                {"data": {"values": [{"group": "F"}]}, "mark": {"type": "text", "align": "left", "baseline": "alphabetic", "fontSize": 28, "lineHeight": 29.5, "color": "white", "text": ["Group: F", "Morocco: 0", "Belgium: 1"]},
                  "encoding": {"x": {"datum": 3.53, "type": "quantitative", "scale": {"domain": [-0.5, 7.5]}, "axis": null}, "y": {"datum": 6.57, "type": "quantitative", "scale": {"domain": [-0.5, 7.5]}, "axis": null}}}
              ],
              "resolve": {"axis": {"x": "independent", "y": "independent"}}
            },
            {
              "width": 37, "height": 466, "data": {"name": "levels"}, "mark": {"type": "rect", "strokeWidth": 1},
              "encoding": {
                "y": {"field": "lo", "type": "quantitative", "scale": {"type": "log", "domain": [1e-6, 0.1995], "nice": false}, "axis": {"orient": "right", "values": [1e-6,2e-6,3e-6,4e-6,5e-6,6e-6,7e-6,8e-6,9e-6,1e-5,2e-5,3e-5,4e-5,5e-5,6e-5,7e-5,8e-5,9e-5,1e-4,2e-4,3e-4,4e-4,5e-4,6e-4,7e-4,8e-4,9e-4,0.001,0.002,0.003,0.004,0.005,0.006,0.007,0.008,0.009,0.01,0.02,0.03,0.04,0.05,0.06,0.07,0.08,0.09,0.1], "tickSize": {"condition": {"test": "abs(log(datum.value)/LN10 - round(log(datum.value)/LN10)) < 0.001", "value": -20}, "value": -10}, "labelExpr": "abs(log(datum.value)/LN10 - round(log(datum.value)/LN10)) < 0.001 ? '10⁻' + substring('⁰¹²³⁴⁵⁶⁷⁸⁹', -round(log(datum.value)/LN10), 1 - round(log(datum.value)/LN10)) : ''", "labelPadding": 33, "labelAlign": "left", "labelBaseline": "middle", "labelFontSize": 27, "title": null}},
                "y2": {"field": "hi"},
                "color": {"field": "lo", "type": "quantitative", "legend": null, "scale": {"type": "threshold", "domain": [1.841e-6,3.388e-6,6.237e-6,1.148e-5,2.113e-5,3.89e-5,7.161e-5,1.318e-4,2.427e-4,4.467e-4,8.222e-4,1.514e-3,2.786e-3,5.129e-3,9.441e-3,0.01738,0.03199,0.05888,0.1084], "range": ["#130c26","#29134a","#331b62","#2f2a6a","#2b3a72","#26456f","#23516f","#215d71","#1e6a71","#1c7670","#1e836c","#219068","#2a9c5f","#3aa852","#49b447","#63ba3a","#82c42a","#a3ca1d","#cfd60f","#f3dd00"]}},
                "stroke": {"field": "lo", "type": "quantitative", "legend": null, "scale": {"type": "threshold", "domain": [1.841e-6,3.388e-6,6.237e-6,1.148e-5,2.113e-5,3.89e-5,7.161e-5,1.318e-4,2.427e-4,4.467e-4,8.222e-4,1.514e-3,2.786e-3,5.129e-3,9.441e-3,0.01738,0.03199,0.05888,0.1084], "range": ["#130c26","#29134a","#331b62","#2f2a6a","#2b3a72","#26456f","#23516f","#215d71","#1e6a71","#1c7670","#1e836c","#219068","#2a9c5f","#3aa852","#49b447","#63ba3a","#82c42a","#a3ca1d","#cfd60f","#f3dd00"]}}
              }
            }
          ]
        }
      ]
    },
    {
      "spacing": 66,
      "hconcat": [
        {
          "spacing": 4, "bounds": "flush",
          "hconcat": [
            {
              "width": 540, "height": 466,
              "layer": [
                {"data": {"name": "croatia_canada"}, "mark": {"type": "rect", "binSpacing": 0, "strokeWidth": 1},
                  "encoding": {
                    "x": {"field": "gx", "type": "quantitative", "bin": {"step": 1, "extent": [-0.5, 7.5], "nice": false}, "scale": {"domain": [-0.5, 7.5]}, "axis": {"orient": "bottom", "values": [-0.4,-0.2,0,0.2,0.4,0.6,0.8,1,1.2,1.4,1.6,1.8,2,2.2,2.4,2.6,2.8,3,3.2,3.4,3.6,3.8,4,4.2,4.4,4.6,4.8,5,5.2,5.4,5.6,5.8,6,6.2,6.4,6.6,6.8,7,7.2,7.4], "tickSize": {"condition": {"test": "datum.value % 1 === 0", "value": -12}, "value": -6}, "labelExpr": "datum.value % 1 === 0 ? format(datum.value, 'd') : ''", "labelPadding": 20, "title": "Canada Goals", "titleX": 540, "titleY": 75, "titleAlign": "right", "titleBaseline": "alphabetic"}},
                    "y": {"field": "gy", "type": "quantitative", "bin": {"step": 1, "extent": [-0.5, 7.5], "nice": false}, "scale": {"domain": [-0.5, 7.5]}, "axis": {"orient": "left", "values": [-0.4,-0.2,0,0.2,0.4,0.6,0.8,1,1.2,1.4,1.6,1.8,2,2.2,2.4,2.6,2.8,3,3.2,3.4,3.6,3.8,4,4.2,4.4,4.6,4.8,5,5.2,5.4,5.6,5.8,6,6.2,6.4,6.6,6.8,7,7.2,7.4], "tickSize": {"condition": {"test": "datum.value % 1 === 0", "value": -19}, "value": -10}, "labelExpr": "datum.value % 1 === 0 ? format(datum.value, 'd') : ''", "labelPadding": 25, "title": "Croatia Goals", "titleX": -67, "titleY": 0, "titleAngle": 270, "titleAlign": "right", "titleBaseline": "alphabetic"}},
                    "color": {"field": "p", "type": "quantitative", "legend": null, "scale": {"type": "threshold", "domain": [1.841e-6,3.388e-6,6.237e-6,1.148e-5,2.113e-5,3.89e-5,7.161e-5,1.318e-4,2.427e-4,4.467e-4,8.222e-4,1.514e-3,2.786e-3,5.129e-3,9.441e-3,0.01738,0.03199,0.05888,0.1084], "range": ["#130c26","#29134a","#331b62","#2f2a6a","#2b3a72","#26456f","#23516f","#215d71","#1e6a71","#1c7670","#1e836c","#219068","#2a9c5f","#3aa852","#49b447","#63ba3a","#82c42a","#a3ca1d","#cfd60f","#f3dd00"]}},
                    "stroke": {"field": "p", "type": "quantitative", "legend": null, "scale": {"type": "threshold", "domain": [1.841e-6,3.388e-6,6.237e-6,1.148e-5,2.113e-5,3.89e-5,7.161e-5,1.318e-4,2.427e-4,4.467e-4,8.222e-4,1.514e-3,2.786e-3,5.129e-3,9.441e-3,0.01738,0.03199,0.05888,0.1084], "range": ["#130c26","#29134a","#331b62","#2f2a6a","#2b3a72","#26456f","#23516f","#215d71","#1e6a71","#1c7670","#1e836c","#219068","#2a9c5f","#3aa852","#49b447","#63ba3a","#82c42a","#a3ca1d","#cfd60f","#f3dd00"]}}
                  }},
                {"data": {"name": "croatia_canada"}, "mark": {"type": "rect", "binSpacing": 0, "opacity": 0},
                  "encoding": {
                    "x": {"field": "gx", "type": "quantitative", "bin": {"step": 1, "extent": [-0.5, 7.5], "nice": false}, "scale": {"domain": [-0.5, 7.5]}, "axis": {"orient": "top", "values": [-0.4,-0.2,0,0.2,0.4,0.6,0.8,1,1.2,1.4,1.6,1.8,2,2.2,2.4,2.6,2.8,3,3.2,3.4,3.6,3.8,4,4.2,4.4,4.6,4.8,5,5.2,5.4,5.6,5.8,6,6.2,6.4,6.6,6.8,7,7.2,7.4], "tickSize": {"condition": {"test": "datum.value % 1 === 0", "value": -12}, "value": -6}, "labels": false, "title": null}},
                    "y": {"field": "gy", "type": "quantitative", "bin": {"step": 1, "extent": [-0.5, 7.5], "nice": false}, "scale": {"domain": [-0.5, 7.5]}, "axis": {"orient": "right", "values": [-0.4,-0.2,0,0.2,0.4,0.6,0.8,1,1.2,1.4,1.6,1.8,2,2.2,2.4,2.6,2.8,3,3.2,3.4,3.6,3.8,4,4.2,4.4,4.6,4.8,5,5.2,5.4,5.6,5.8,6,6.2,6.4,6.6,6.8,7,7.2,7.4], "tickSize": {"condition": {"test": "datum.value % 1 === 0", "value": -19}, "value": -10}, "labels": false, "title": null}}
                  }},
                {"data": {"values": [{"group": "F"}]}, "mark": {"type": "text", "align": "left", "baseline": "alphabetic", "fontSize": 28, "lineHeight": 29.5, "color": "white", "text": ["Group: F", "Croatia: 1", "Canada: 0"]},
                  "encoding": {"x": {"datum": 3.53, "type": "quantitative", "scale": {"domain": [-0.5, 7.5]}, "axis": null}, "y": {"datum": 6.57, "type": "quantitative", "scale": {"domain": [-0.5, 7.5]}, "axis": null}}}
              ],
              "resolve": {"axis": {"x": "independent", "y": "independent"}}
            },
            {
              "width": 37, "height": 466, "data": {"name": "levels"}, "mark": {"type": "rect", "strokeWidth": 1},
              "encoding": {
                "y": {"field": "lo", "type": "quantitative", "scale": {"type": "log", "domain": [1e-6, 0.1995], "nice": false}, "axis": {"orient": "right", "values": [1e-6,2e-6,3e-6,4e-6,5e-6,6e-6,7e-6,8e-6,9e-6,1e-5,2e-5,3e-5,4e-5,5e-5,6e-5,7e-5,8e-5,9e-5,1e-4,2e-4,3e-4,4e-4,5e-4,6e-4,7e-4,8e-4,9e-4,0.001,0.002,0.003,0.004,0.005,0.006,0.007,0.008,0.009,0.01,0.02,0.03,0.04,0.05,0.06,0.07,0.08,0.09,0.1], "tickSize": {"condition": {"test": "abs(log(datum.value)/LN10 - round(log(datum.value)/LN10)) < 0.001", "value": -20}, "value": -10}, "labelExpr": "abs(log(datum.value)/LN10 - round(log(datum.value)/LN10)) < 0.001 ? '10⁻' + substring('⁰¹²³⁴⁵⁶⁷⁸⁹', -round(log(datum.value)/LN10), 1 - round(log(datum.value)/LN10)) : ''", "labelPadding": 33, "labelAlign": "left", "labelBaseline": "middle", "labelFontSize": 27, "title": null}},
                "y2": {"field": "hi"},
                "color": {"field": "lo", "type": "quantitative", "legend": null, "scale": {"type": "threshold", "domain": [1.841e-6,3.388e-6,6.237e-6,1.148e-5,2.113e-5,3.89e-5,7.161e-5,1.318e-4,2.427e-4,4.467e-4,8.222e-4,1.514e-3,2.786e-3,5.129e-3,9.441e-3,0.01738,0.03199,0.05888,0.1084], "range": ["#130c26","#29134a","#331b62","#2f2a6a","#2b3a72","#26456f","#23516f","#215d71","#1e6a71","#1c7670","#1e836c","#219068","#2a9c5f","#3aa852","#49b447","#63ba3a","#82c42a","#a3ca1d","#cfd60f","#f3dd00"]}},
                "stroke": {"field": "lo", "type": "quantitative", "legend": null, "scale": {"type": "threshold", "domain": [1.841e-6,3.388e-6,6.237e-6,1.148e-5,2.113e-5,3.89e-5,7.161e-5,1.318e-4,2.427e-4,4.467e-4,8.222e-4,1.514e-3,2.786e-3,5.129e-3,9.441e-3,0.01738,0.03199,0.05888,0.1084], "range": ["#130c26","#29134a","#331b62","#2f2a6a","#2b3a72","#26456f","#23516f","#215d71","#1e6a71","#1c7670","#1e836c","#219068","#2a9c5f","#3aa852","#49b447","#63ba3a","#82c42a","#a3ca1d","#cfd60f","#f3dd00"]}}
              }
            }
          ]
        },
        {
          "spacing": 4, "bounds": "flush",
          "hconcat": [
            {
              "width": 540, "height": 466,
              "layer": [
                {"data": {"name": "morocco_canada"}, "mark": {"type": "rect", "binSpacing": 0, "strokeWidth": 1},
                  "encoding": {
                    "x": {"field": "gx", "type": "quantitative", "bin": {"step": 1, "extent": [-0.5, 7.5], "nice": false}, "scale": {"domain": [-0.5, 7.5]}, "axis": {"orient": "bottom", "values": [-0.4,-0.2,0,0.2,0.4,0.6,0.8,1,1.2,1.4,1.6,1.8,2,2.2,2.4,2.6,2.8,3,3.2,3.4,3.6,3.8,4,4.2,4.4,4.6,4.8,5,5.2,5.4,5.6,5.8,6,6.2,6.4,6.6,6.8,7,7.2,7.4], "tickSize": {"condition": {"test": "datum.value % 1 === 0", "value": -12}, "value": -6}, "labelExpr": "datum.value % 1 === 0 ? format(datum.value, 'd') : ''", "labelPadding": 20, "title": "Canada Goals", "titleX": 540, "titleY": 75, "titleAlign": "right", "titleBaseline": "alphabetic"}},
                    "y": {"field": "gy", "type": "quantitative", "bin": {"step": 1, "extent": [-0.5, 7.5], "nice": false}, "scale": {"domain": [-0.5, 7.5]}, "axis": {"orient": "left", "values": [-0.4,-0.2,0,0.2,0.4,0.6,0.8,1,1.2,1.4,1.6,1.8,2,2.2,2.4,2.6,2.8,3,3.2,3.4,3.6,3.8,4,4.2,4.4,4.6,4.8,5,5.2,5.4,5.6,5.8,6,6.2,6.4,6.6,6.8,7,7.2,7.4], "tickSize": {"condition": {"test": "datum.value % 1 === 0", "value": -19}, "value": -10}, "labelExpr": "datum.value % 1 === 0 ? format(datum.value, 'd') : ''", "labelPadding": 25, "title": "Morocco Goals", "titleX": -67, "titleY": 0, "titleAngle": 270, "titleAlign": "right", "titleBaseline": "alphabetic"}},
                    "color": {"field": "p", "type": "quantitative", "legend": null, "scale": {"type": "threshold", "domain": [1.841e-6,3.388e-6,6.237e-6,1.148e-5,2.113e-5,3.89e-5,7.161e-5,1.318e-4,2.427e-4,4.467e-4,8.222e-4,1.514e-3,2.786e-3,5.129e-3,9.441e-3,0.01738,0.03199,0.05888,0.1084], "range": ["#130c26","#29134a","#331b62","#2f2a6a","#2b3a72","#26456f","#23516f","#215d71","#1e6a71","#1c7670","#1e836c","#219068","#2a9c5f","#3aa852","#49b447","#63ba3a","#82c42a","#a3ca1d","#cfd60f","#f3dd00"]}},
                    "stroke": {"field": "p", "type": "quantitative", "legend": null, "scale": {"type": "threshold", "domain": [1.841e-6,3.388e-6,6.237e-6,1.148e-5,2.113e-5,3.89e-5,7.161e-5,1.318e-4,2.427e-4,4.467e-4,8.222e-4,1.514e-3,2.786e-3,5.129e-3,9.441e-3,0.01738,0.03199,0.05888,0.1084], "range": ["#130c26","#29134a","#331b62","#2f2a6a","#2b3a72","#26456f","#23516f","#215d71","#1e6a71","#1c7670","#1e836c","#219068","#2a9c5f","#3aa852","#49b447","#63ba3a","#82c42a","#a3ca1d","#cfd60f","#f3dd00"]}}
                  }},
                {"data": {"name": "morocco_canada"}, "mark": {"type": "rect", "binSpacing": 0, "opacity": 0},
                  "encoding": {
                    "x": {"field": "gx", "type": "quantitative", "bin": {"step": 1, "extent": [-0.5, 7.5], "nice": false}, "scale": {"domain": [-0.5, 7.5]}, "axis": {"orient": "top", "values": [-0.4,-0.2,0,0.2,0.4,0.6,0.8,1,1.2,1.4,1.6,1.8,2,2.2,2.4,2.6,2.8,3,3.2,3.4,3.6,3.8,4,4.2,4.4,4.6,4.8,5,5.2,5.4,5.6,5.8,6,6.2,6.4,6.6,6.8,7,7.2,7.4], "tickSize": {"condition": {"test": "datum.value % 1 === 0", "value": -12}, "value": -6}, "labels": false, "title": null}},
                    "y": {"field": "gy", "type": "quantitative", "bin": {"step": 1, "extent": [-0.5, 7.5], "nice": false}, "scale": {"domain": [-0.5, 7.5]}, "axis": {"orient": "right", "values": [-0.4,-0.2,0,0.2,0.4,0.6,0.8,1,1.2,1.4,1.6,1.8,2,2.2,2.4,2.6,2.8,3,3.2,3.4,3.6,3.8,4,4.2,4.4,4.6,4.8,5,5.2,5.4,5.6,5.8,6,6.2,6.4,6.6,6.8,7,7.2,7.4], "tickSize": {"condition": {"test": "datum.value % 1 === 0", "value": -19}, "value": -10}, "labels": false, "title": null}}
                  }},
                {"data": {"values": [{"group": "F"}]}, "mark": {"type": "text", "align": "left", "baseline": "alphabetic", "fontSize": 28, "lineHeight": 29.5, "color": "white", "text": ["Group: F", "Morocco: 1", "Canada: 0"]},
                  "encoding": {"x": {"datum": 3.53, "type": "quantitative", "scale": {"domain": [-0.5, 7.5]}, "axis": null}, "y": {"datum": 6.57, "type": "quantitative", "scale": {"domain": [-0.5, 7.5]}, "axis": null}}}
              ],
              "resolve": {"axis": {"x": "independent", "y": "independent"}}
            },
            {
              "width": 37, "height": 466, "data": {"name": "levels"}, "mark": {"type": "rect", "strokeWidth": 1},
              "encoding": {
                "y": {"field": "lo", "type": "quantitative", "scale": {"type": "log", "domain": [1e-6, 0.1995], "nice": false}, "axis": {"orient": "right", "values": [1e-6,2e-6,3e-6,4e-6,5e-6,6e-6,7e-6,8e-6,9e-6,1e-5,2e-5,3e-5,4e-5,5e-5,6e-5,7e-5,8e-5,9e-5,1e-4,2e-4,3e-4,4e-4,5e-4,6e-4,7e-4,8e-4,9e-4,0.001,0.002,0.003,0.004,0.005,0.006,0.007,0.008,0.009,0.01,0.02,0.03,0.04,0.05,0.06,0.07,0.08,0.09,0.1], "tickSize": {"condition": {"test": "abs(log(datum.value)/LN10 - round(log(datum.value)/LN10)) < 0.001", "value": -20}, "value": -10}, "labelExpr": "abs(log(datum.value)/LN10 - round(log(datum.value)/LN10)) < 0.001 ? '10⁻' + substring('⁰¹²³⁴⁵⁶⁷⁸⁹', -round(log(datum.value)/LN10), 1 - round(log(datum.value)/LN10)) : ''", "labelPadding": 33, "labelAlign": "left", "labelBaseline": "middle", "labelFontSize": 27, "title": null}},
                "y2": {"field": "hi"},
                "color": {"field": "lo", "type": "quantitative", "legend": null, "scale": {"type": "threshold", "domain": [1.841e-6,3.388e-6,6.237e-6,1.148e-5,2.113e-5,3.89e-5,7.161e-5,1.318e-4,2.427e-4,4.467e-4,8.222e-4,1.514e-3,2.786e-3,5.129e-3,9.441e-3,0.01738,0.03199,0.05888,0.1084], "range": ["#130c26","#29134a","#331b62","#2f2a6a","#2b3a72","#26456f","#23516f","#215d71","#1e6a71","#1c7670","#1e836c","#219068","#2a9c5f","#3aa852","#49b447","#63ba3a","#82c42a","#a3ca1d","#cfd60f","#f3dd00"]}},
                "stroke": {"field": "lo", "type": "quantitative", "legend": null, "scale": {"type": "threshold", "domain": [1.841e-6,3.388e-6,6.237e-6,1.148e-5,2.113e-5,3.89e-5,7.161e-5,1.318e-4,2.427e-4,4.467e-4,8.222e-4,1.514e-3,2.786e-3,5.129e-3,9.441e-3,0.01738,0.03199,0.05888,0.1084], "range": ["#130c26","#29134a","#331b62","#2f2a6a","#2b3a72","#26456f","#23516f","#215d71","#1e6a71","#1c7670","#1e836c","#219068","#2a9c5f","#3aa852","#49b447","#63ba3a","#82c42a","#a3ca1d","#cfd60f","#f3dd00"]}}
              }
            }
          ]
        },
        {
          "spacing": 4, "bounds": "flush",
          "hconcat": [
            {
              "width": 540, "height": 466,
              "layer": [
                {"data": {"name": "morocco_croatia"}, "mark": {"type": "rect", "binSpacing": 0, "strokeWidth": 1},
                  "encoding": {
                    "x": {"field": "gx", "type": "quantitative", "bin": {"step": 1, "extent": [-0.5, 7.5], "nice": false}, "scale": {"domain": [-0.5, 7.5]}, "axis": {"orient": "bottom", "values": [-0.4,-0.2,0,0.2,0.4,0.6,0.8,1,1.2,1.4,1.6,1.8,2,2.2,2.4,2.6,2.8,3,3.2,3.4,3.6,3.8,4,4.2,4.4,4.6,4.8,5,5.2,5.4,5.6,5.8,6,6.2,6.4,6.6,6.8,7,7.2,7.4], "tickSize": {"condition": {"test": "datum.value % 1 === 0", "value": -12}, "value": -6}, "labelExpr": "datum.value % 1 === 0 ? format(datum.value, 'd') : ''", "labelPadding": 20, "title": "Croatia Goals", "titleX": 540, "titleY": 75, "titleAlign": "right", "titleBaseline": "alphabetic"}},
                    "y": {"field": "gy", "type": "quantitative", "bin": {"step": 1, "extent": [-0.5, 7.5], "nice": false}, "scale": {"domain": [-0.5, 7.5]}, "axis": {"orient": "left", "values": [-0.4,-0.2,0,0.2,0.4,0.6,0.8,1,1.2,1.4,1.6,1.8,2,2.2,2.4,2.6,2.8,3,3.2,3.4,3.6,3.8,4,4.2,4.4,4.6,4.8,5,5.2,5.4,5.6,5.8,6,6.2,6.4,6.6,6.8,7,7.2,7.4], "tickSize": {"condition": {"test": "datum.value % 1 === 0", "value": -19}, "value": -10}, "labelExpr": "datum.value % 1 === 0 ? format(datum.value, 'd') : ''", "labelPadding": 25, "title": "Morocco Goals", "titleX": -67, "titleY": 0, "titleAngle": 270, "titleAlign": "right", "titleBaseline": "alphabetic"}},
                    "color": {"field": "p", "type": "quantitative", "legend": null, "scale": {"type": "threshold", "domain": [1.841e-6,3.388e-6,6.237e-6,1.148e-5,2.113e-5,3.89e-5,7.161e-5,1.318e-4,2.427e-4,4.467e-4,8.222e-4,1.514e-3,2.786e-3,5.129e-3,9.441e-3,0.01738,0.03199,0.05888,0.1084], "range": ["#130c26","#29134a","#331b62","#2f2a6a","#2b3a72","#26456f","#23516f","#215d71","#1e6a71","#1c7670","#1e836c","#219068","#2a9c5f","#3aa852","#49b447","#63ba3a","#82c42a","#a3ca1d","#cfd60f","#f3dd00"]}},
                    "stroke": {"field": "p", "type": "quantitative", "legend": null, "scale": {"type": "threshold", "domain": [1.841e-6,3.388e-6,6.237e-6,1.148e-5,2.113e-5,3.89e-5,7.161e-5,1.318e-4,2.427e-4,4.467e-4,8.222e-4,1.514e-3,2.786e-3,5.129e-3,9.441e-3,0.01738,0.03199,0.05888,0.1084], "range": ["#130c26","#29134a","#331b62","#2f2a6a","#2b3a72","#26456f","#23516f","#215d71","#1e6a71","#1c7670","#1e836c","#219068","#2a9c5f","#3aa852","#49b447","#63ba3a","#82c42a","#a3ca1d","#cfd60f","#f3dd00"]}}
                  }},
                {"data": {"name": "morocco_croatia"}, "mark": {"type": "rect", "binSpacing": 0, "opacity": 0},
                  "encoding": {
                    "x": {"field": "gx", "type": "quantitative", "bin": {"step": 1, "extent": [-0.5, 7.5], "nice": false}, "scale": {"domain": [-0.5, 7.5]}, "axis": {"orient": "top", "values": [-0.4,-0.2,0,0.2,0.4,0.6,0.8,1,1.2,1.4,1.6,1.8,2,2.2,2.4,2.6,2.8,3,3.2,3.4,3.6,3.8,4,4.2,4.4,4.6,4.8,5,5.2,5.4,5.6,5.8,6,6.2,6.4,6.6,6.8,7,7.2,7.4], "tickSize": {"condition": {"test": "datum.value % 1 === 0", "value": -12}, "value": -6}, "labels": false, "title": null}},
                    "y": {"field": "gy", "type": "quantitative", "bin": {"step": 1, "extent": [-0.5, 7.5], "nice": false}, "scale": {"domain": [-0.5, 7.5]}, "axis": {"orient": "right", "values": [-0.4,-0.2,0,0.2,0.4,0.6,0.8,1,1.2,1.4,1.6,1.8,2,2.2,2.4,2.6,2.8,3,3.2,3.4,3.6,3.8,4,4.2,4.4,4.6,4.8,5,5.2,5.4,5.6,5.8,6,6.2,6.4,6.6,6.8,7,7.2,7.4], "tickSize": {"condition": {"test": "datum.value % 1 === 0", "value": -19}, "value": -10}, "labels": false, "title": null}}
                  }},
                {"data": {"values": [{"group": "F"}]}, "mark": {"type": "text", "align": "left", "baseline": "alphabetic", "fontSize": 28, "lineHeight": 29.5, "color": "white", "text": ["Group: F", "Morocco: 0", "Croatia: 1"]},
                  "encoding": {"x": {"datum": 3.53, "type": "quantitative", "scale": {"domain": [-0.5, 7.5]}, "axis": null}, "y": {"datum": 6.57, "type": "quantitative", "scale": {"domain": [-0.5, 7.5]}, "axis": null}}}
              ],
              "resolve": {"axis": {"x": "independent", "y": "independent"}}
            },
            {
              "width": 37, "height": 466, "data": {"name": "levels"}, "mark": {"type": "rect", "strokeWidth": 1},
              "encoding": {
                "y": {"field": "lo", "type": "quantitative", "scale": {"type": "log", "domain": [1e-6, 0.1995], "nice": false}, "axis": {"orient": "right", "values": [1e-6,2e-6,3e-6,4e-6,5e-6,6e-6,7e-6,8e-6,9e-6,1e-5,2e-5,3e-5,4e-5,5e-5,6e-5,7e-5,8e-5,9e-5,1e-4,2e-4,3e-4,4e-4,5e-4,6e-4,7e-4,8e-4,9e-4,0.001,0.002,0.003,0.004,0.005,0.006,0.007,0.008,0.009,0.01,0.02,0.03,0.04,0.05,0.06,0.07,0.08,0.09,0.1], "tickSize": {"condition": {"test": "abs(log(datum.value)/LN10 - round(log(datum.value)/LN10)) < 0.001", "value": -20}, "value": -10}, "labelExpr": "abs(log(datum.value)/LN10 - round(log(datum.value)/LN10)) < 0.001 ? '10⁻' + substring('⁰¹²³⁴⁵⁶⁷⁸⁹', -round(log(datum.value)/LN10), 1 - round(log(datum.value)/LN10)) : ''", "labelPadding": 33, "labelAlign": "left", "labelBaseline": "middle", "labelFontSize": 27, "title": null}},
                "y2": {"field": "hi"},
                "color": {"field": "lo", "type": "quantitative", "legend": null, "scale": {"type": "threshold", "domain": [1.841e-6,3.388e-6,6.237e-6,1.148e-5,2.113e-5,3.89e-5,7.161e-5,1.318e-4,2.427e-4,4.467e-4,8.222e-4,1.514e-3,2.786e-3,5.129e-3,9.441e-3,0.01738,0.03199,0.05888,0.1084], "range": ["#130c26","#29134a","#331b62","#2f2a6a","#2b3a72","#26456f","#23516f","#215d71","#1e6a71","#1c7670","#1e836c","#219068","#2a9c5f","#3aa852","#49b447","#63ba3a","#82c42a","#a3ca1d","#cfd60f","#f3dd00"]}},
                "stroke": {"field": "lo", "type": "quantitative", "legend": null, "scale": {"type": "threshold", "domain": [1.841e-6,3.388e-6,6.237e-6,1.148e-5,2.113e-5,3.89e-5,7.161e-5,1.318e-4,2.427e-4,4.467e-4,8.222e-4,1.514e-3,2.786e-3,5.129e-3,9.441e-3,0.01738,0.03199,0.05888,0.1084], "range": ["#130c26","#29134a","#331b62","#2f2a6a","#2b3a72","#26456f","#23516f","#215d71","#1e6a71","#1c7670","#1e836c","#219068","#2a9c5f","#3aa852","#49b447","#63ba3a","#82c42a","#a3ca1d","#cfd60f","#f3dd00"]}}
              }
            }
          ]
        }
      ]
    }
  ]
}
